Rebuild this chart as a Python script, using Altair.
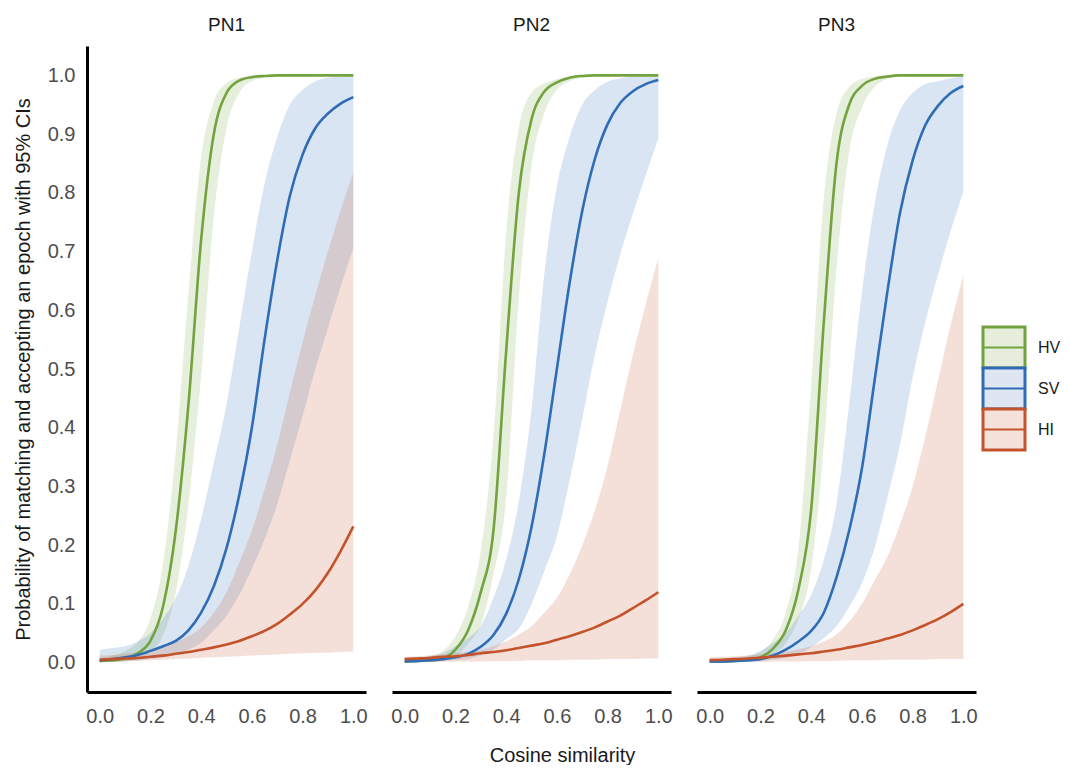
import altair as alt
import pandas as pd

X = [0.0, 0.05, 0.1, 0.15, 0.2, 0.25, 0.3, 0.35, 0.4, 0.45, 0.5,
     0.55, 0.6, 0.65, 0.7, 0.75, 0.8, 0.85, 0.9, 0.95, 1.0]

PANELS = ["PN1", "PN2", "PN3"]
GROUPS = ["HV", "SV", "HI"]
COLORS = ["#72a33f", "#2e6db5", "#c4532b"]
LIGHT = ["#e6eedb", "#dde6f1", "#f4e2da"]
X_TICKS = [0.0, 0.2, 0.4, 0.6, 0.8, 1.0]
Y_TICKS = [0.0, 0.1, 0.2, 0.3, 0.4, 0.5, 0.6, 0.7, 0.8, 0.9, 1.0]

# ---- PN1 ----
PN1_HV_MEAN = [0.003, 0.004, 0.007, 0.016, 0.037, 0.096, 0.225, 0.44, 0.72, 0.90, 0.97, 0.991, 0.997, 0.999, 1.0, 1.0, 1.0, 1.0, 1.0, 1.0, 1.0]
PN1_HV_HI = [0.008, 0.012, 0.02, 0.035, 0.075, 0.17, 0.36, 0.63, 0.86, 0.955, 0.987, 0.996, 0.999, 1.0, 1.0, 1.0, 1.0, 1.0, 1.0, 1.0, 1.0]
PN1_HV_LO = [0.001, 0.001, 0.002, 0.006, 0.018, 0.047, 0.12, 0.27, 0.49, 0.76, 0.91, 0.97, 0.99, 0.996, 0.999, 1.0, 1.0, 1.0, 1.0, 1.0, 1.0]
PN1_SV_MEAN = [0.004, 0.006, 0.009, 0.013, 0.02, 0.028, 0.037, 0.055, 0.085, 0.13, 0.195, 0.285, 0.40, 0.55, 0.685, 0.795, 0.865, 0.91, 0.935, 0.952, 0.963]
PN1_SV_HI = [0.022, 0.025, 0.028, 0.036, 0.05, 0.075, 0.11, 0.165, 0.245, 0.34, 0.44, 0.57, 0.70, 0.815, 0.895, 0.95, 0.975, 0.99, 0.996, 0.998, 0.999]
PN1_SV_LO = [0.001, 0.002, 0.003, 0.004, 0.006, 0.009, 0.014, 0.022, 0.034, 0.055, 0.08, 0.115, 0.16, 0.21, 0.27, 0.345, 0.42, 0.50, 0.57, 0.64, 0.706]
PN1_HI_MEAN = [0.005, 0.006, 0.007, 0.008, 0.010, 0.012, 0.015, 0.018, 0.022, 0.026, 0.031, 0.037, 0.045, 0.054, 0.066, 0.082, 0.10, 0.123, 0.153, 0.19, 0.232]
PN1_HI_HI = [0.012, 0.013, 0.015, 0.018, 0.022, 0.028, 0.036, 0.045, 0.06, 0.085, 0.12, 0.17, 0.225, 0.295, 0.37, 0.46, 0.545, 0.625, 0.70, 0.77, 0.834]
PN1_HI_LO = [0.0, 0.001, 0.002, 0.003, 0.004, 0.005, 0.006, 0.007, 0.008, 0.009, 0.010, 0.011, 0.012, 0.013, 0.014, 0.015, 0.016, 0.017, 0.017, 0.018, 0.019]

# ---- PN2 ----
PN2_HV_MEAN = [0.002, 0.003, 0.004, 0.007, 0.022, 0.055, 0.12, 0.225, 0.53, 0.80, 0.925, 0.972, 0.988, 0.996, 0.999, 1.0, 1.0, 1.0, 1.0, 1.0, 1.0]
PN2_HV_HI = [0.006, 0.008, 0.012, 0.02, 0.045, 0.095, 0.19, 0.385, 0.73, 0.91, 0.97, 0.986, 0.994, 0.998, 1.0, 1.0, 1.0, 1.0, 1.0, 1.0, 1.0]
PN2_HV_LO = [0.001, 0.001, 0.002, 0.004, 0.01, 0.032, 0.065, 0.15, 0.28, 0.62, 0.845, 0.935, 0.975, 0.99, 0.996, 0.999, 1.0, 1.0, 1.0, 1.0, 1.0]
PN2_SV_MEAN = [0.002, 0.003, 0.004, 0.006, 0.009, 0.015, 0.027, 0.047, 0.083, 0.142, 0.231, 0.354, 0.50, 0.646, 0.769, 0.858, 0.917, 0.953, 0.973, 0.985, 0.992]
PN2_SV_HI = [0.008, 0.009, 0.011, 0.016, 0.028, 0.042, 0.063, 0.11, 0.175, 0.275, 0.43, 0.66, 0.81, 0.895, 0.95, 0.975, 0.989, 0.995, 0.998, 0.999, 1.0]
PN2_SV_LO = [0.001, 0.001, 0.002, 0.003, 0.004, 0.006, 0.012, 0.022, 0.04, 0.058, 0.10, 0.155, 0.215, 0.31, 0.415, 0.525, 0.615, 0.695, 0.765, 0.83, 0.893]
PN2_HI_MEAN = [0.006, 0.007, 0.008, 0.010, 0.011, 0.013, 0.016, 0.018, 0.021, 0.025, 0.029, 0.033, 0.039, 0.045, 0.052, 0.06, 0.07, 0.08, 0.093, 0.106, 0.12]
PN2_HI_HI = [0.010, 0.011, 0.012, 0.014, 0.016, 0.019, 0.022, 0.028, 0.036, 0.048, 0.062, 0.085, 0.11, 0.15, 0.20, 0.26, 0.335, 0.43, 0.525, 0.61, 0.689]
PN2_HI_LO = [0.0, 0.0, 0.001, 0.001, 0.002, 0.002, 0.002, 0.003, 0.003, 0.003, 0.004, 0.004, 0.004, 0.005, 0.005, 0.005, 0.006, 0.006, 0.006, 0.007, 0.007]

# ---- PN3 ----
PN3_HV_MEAN = [0.002, 0.002, 0.003, 0.004, 0.009, 0.024, 0.055, 0.125, 0.26, 0.58, 0.85, 0.95, 0.982, 0.994, 0.998, 1.0, 1.0, 1.0, 1.0, 1.0, 1.0]
PN3_HV_HI = [0.004, 0.005, 0.007, 0.01, 0.018, 0.04, 0.085, 0.195, 0.47, 0.79, 0.935, 0.98, 0.994, 0.998, 1.0, 1.0, 1.0, 1.0, 1.0, 1.0, 1.0]
PN3_HV_LO = [0.001, 0.001, 0.001, 0.002, 0.006, 0.015, 0.033, 0.075, 0.16, 0.37, 0.67, 0.87, 0.945, 0.98, 0.994, 0.998, 1.0, 1.0, 1.0, 1.0, 1.0]
PN3_SV_MEAN = [0.002, 0.002, 0.003, 0.004, 0.006, 0.012, 0.022, 0.036, 0.054, 0.085, 0.145, 0.225, 0.33, 0.48, 0.63, 0.765, 0.855, 0.915, 0.948, 0.97, 0.982]
PN3_SV_HI = [0.006, 0.007, 0.009, 0.012, 0.02, 0.033, 0.05, 0.08, 0.115, 0.175, 0.27, 0.44, 0.63, 0.78, 0.88, 0.94, 0.97, 0.985, 0.99, 0.995, 0.998]
PN3_SV_LO = [0.001, 0.001, 0.001, 0.002, 0.003, 0.005, 0.008, 0.014, 0.026, 0.042, 0.062, 0.095, 0.135, 0.195, 0.28, 0.37, 0.485, 0.58, 0.66, 0.735, 0.802]
PN3_HI_MEAN = [0.0045, 0.005, 0.006, 0.007, 0.0085, 0.01, 0.012, 0.014, 0.016, 0.019, 0.022, 0.026, 0.03, 0.035, 0.041, 0.047, 0.055, 0.064, 0.074, 0.086, 0.10]
PN3_HI_HI = [0.009, 0.010, 0.011, 0.012, 0.014, 0.016, 0.019, 0.023, 0.028, 0.036, 0.048, 0.07, 0.10, 0.14, 0.18, 0.235, 0.30, 0.385, 0.48, 0.575, 0.66]
PN3_HI_LO = [0.0, 0.0, 0.001, 0.001, 0.001, 0.002, 0.002, 0.002, 0.003, 0.003, 0.003, 0.004, 0.004, 0.004, 0.005, 0.005, 0.005, 0.005, 0.006, 0.006, 0.006]

SERIES = {
    ("PN1", "HV"): (PN1_HV_MEAN, PN1_HV_LO, PN1_HV_HI),
    ("PN1", "SV"): (PN1_SV_MEAN, PN1_SV_LO, PN1_SV_HI),
    ("PN1", "HI"): (PN1_HI_MEAN, PN1_HI_LO, PN1_HI_HI),
    ("PN2", "HV"): (PN2_HV_MEAN, PN2_HV_LO, PN2_HV_HI),
    ("PN2", "SV"): (PN2_SV_MEAN, PN2_SV_LO, PN2_SV_HI),
    ("PN2", "HI"): (PN2_HI_MEAN, PN2_HI_LO, PN2_HI_HI),
    ("PN3", "HV"): (PN3_HV_MEAN, PN3_HV_LO, PN3_HV_HI),
    ("PN3", "SV"): (PN3_SV_MEAN, PN3_SV_LO, PN3_SV_HI),
    ("PN3", "HI"): (PN3_HI_MEAN, PN3_HI_LO, PN3_HI_HI),
}

rows = []
for (p, g), (m, lo, hi) in SERIES.items():
    for xi, mi, li, hv in zip(X, m, lo, hi):
        rows.append({"panel": p, "group": g, "x": xi, "mean": mi, "lo": li, "hi": hv})
df = pd.DataFrame(rows)

FONT = "Liberation Sans"
PW, PH = 279, 646


def panel(name, show_y, x_title):
    d = df[df["panel"] == name]
    xs = alt.Scale(domain=[-0.05, 1.05], nice=False, zero=False)
    ys = alt.Scale(domain=[-0.05, 1.05], nice=False, zero=False)
    if x_title:
        xaxis = alt.Axis(values=X_TICKS, format=".1f", title=x_title, titleX=170,
                         labelPadding=14, titlePadding=19)
    else:
        xaxis = alt.Axis(values=X_TICKS, format=".1f", title=None, labelPadding=14)
    if show_y:
        yaxis = alt.Axis(values=Y_TICKS, format=".1f",
                         title="Probability of matching and accepting an epoch with 95% CIs",
                         labelPadding=12, titlePadding=14)
    else:
        yaxis = None
    color = alt.Color("group:N", scale=alt.Scale(domain=GROUPS, range=COLORS), legend=None)
    base = alt.Chart(d).encode(x=alt.X("x:Q", scale=xs, axis=xaxis))
    band = base.mark_area(opacity=0.18, interpolate="monotone").encode(
        y=alt.Y("lo:Q", scale=ys, axis=yaxis), y2="hi:Q", color=color)
    line = base.mark_line(strokeWidth=2.6, interpolate="monotone").encode(
        y=alt.Y("mean:Q", scale=ys, axis=yaxis), color=color)
    return alt.layer(band, line).properties(width=PW, height=PH, title=name)


p1 = panel("PN1", True, None)
p2 = panel("PN2", False, "Cosine similarity")
p3 = panel("PN3", False, None)

leg_df = pd.DataFrame({"group": GROUPS})
lscale = alt.Scale(domain=GROUPS, range=[281, 404], paddingInner=0, paddingOuter=0)
boxes = alt.Chart(leg_df).mark_rect(strokeWidth=3).encode(
    y=alt.Y("group:N", scale=lscale, axis=None),
    x=alt.value(0), x2=alt.value(42),
    fill=alt.Fill("group:N", scale=alt.Scale(domain=GROUPS, range=LIGHT), legend=None),
    stroke=alt.Stroke("group:N", scale=alt.Scale(domain=GROUPS, range=COLORS), legend=None),
)
mids = alt.Chart(leg_df).mark_rule(strokeWidth=2).encode(
    y=alt.Y("group:N", scale=lscale, axis=None, bandPosition=0.5),
    x=alt.value(0), x2=alt.value(42),
    stroke=alt.Stroke("group:N", scale=alt.Scale(domain=GROUPS, range=COLORS), legend=None),
)
labels = alt.Chart(leg_df).mark_text(align="left", baseline="middle", fontSize=16,
                                      font=FONT, color="#1a1a1a").encode(
    y=alt.Y("group:N", scale=lscale, axis=None, bandPosition=0.5),
    x=alt.value(55), text="group:N",
)
legend = alt.layer(boxes, mids, labels).properties(width=60, height=PH, title=" ")

chart = alt.hconcat(
    alt.hconcat(p1, p2, p3, spacing=22),
    legend,
    spacing=3,
).properties(
    padding={"left": 5, "top": 8, "right": 0, "bottom": 0}
).configure_view(stroke=None).configure_axis(
    domainColor="black", domainWidth=3, ticks=False, tickSize=0, grid=False,
    labelFont=FONT, labelFontSize=20, labelColor="#4d4d4d",
    titleFont=FONT, titleFontSize=20, titleFontWeight="normal", titleColor="#1a1a1a",
).configure_title(
    font=FONT, fontSize=19, fontWeight="normal", color="#1a1a1a", anchor="middle", offset=11,
)

chart.save("out.html", embed_options={"renderer": "svg", "actions": False})
